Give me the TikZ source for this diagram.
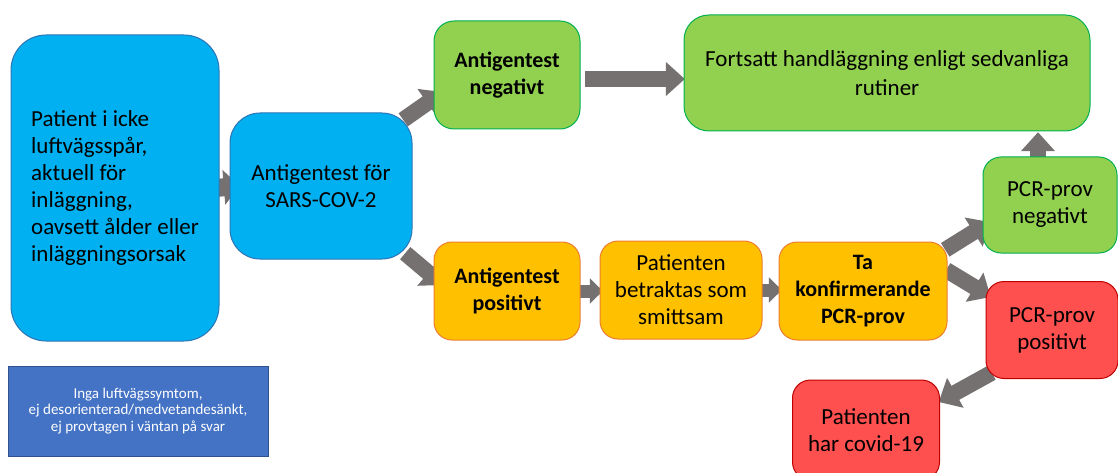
\documentclass[tikz,border=0pt]{standalone}
\usepackage{fontspec}
\setmainfont{Carlito}
\usetikzlibrary{arrows.meta,calc}
\definecolor{bluefill}{HTML}{00B0F0}
\definecolor{blueline}{HTML}{2E75B6}
\definecolor{greenfill}{HTML}{92D050}
\definecolor{greenline}{HTML}{00B050}
\definecolor{orangefill}{HTML}{FFC000}
\definecolor{orangeline}{HTML}{ED7D31}
\definecolor{redfill}{HTML}{FF5050}
\definecolor{redline}{HTML}{C00000}
\definecolor{ingafill}{HTML}{4472C4}
\definecolor{ingaline}{HTML}{2F528F}
\definecolor{arrowgray}{HTML}{767171}
\tikzset{
  stepbox/.style={draw, line width=1pt, inner sep=0pt, align=center, outer sep=0pt},
  bluebox/.style={stepbox, fill=bluefill, draw=blueline},
  greenbox/.style={stepbox, fill=greenfill, draw=greenline},
  orangebox/.style={stepbox, fill=orangefill, draw=orangeline},
  redbox/.style={stepbox, fill=redfill, draw=redline},
  mainfont/.style={font=\fontsize{23}{27}\selectfont},
  boldfont/.style={font=\fontsize{22}{27}\selectfont\bfseries},
  bigarrow/.style={draw=arrowgray, line width=16pt, -{Triangle[width=33pt,length=19pt]}},
  midarrow/.style={draw=arrowgray, line width=13pt, -{Triangle[width=25pt,length=13pt]}},
  smallarrow/.style={draw=arrowgray, line width=18pt, -{Triangle[width=34pt,length=16pt]}},
}
\begin{document}
\begin{tikzpicture}[x=1pt,y=-1pt]
\useasboundingbox (0,0) rectangle (1118,473);
\clip (0,0) rectangle (1118,473);
\fill[white] (0,0) rectangle (1118,473);

% node placeholders for connectors (drawn first so boxes cover arrow ends)
\path
  (115,188) node[minimum width=208pt, minimum height=306pt] (patient) {}
  (321,186) node[minimum width=182pt, minimum height=146pt] (sars) {}
  (507,75)  node[minimum width=146pt, minimum height=108pt] (neg) {}
  (887,73)  node[minimum width=406pt, minimum height=116pt] (fort) {}
  (1050,205) node[minimum width=134pt, minimum height=96pt] (pcrneg) {}
  (1052,330) node[minimum width=132pt, minimum height=97pt] (pcrpos) {}
  (866,430) node[minimum width=147pt, minimum height=100pt] (covid) {}
  (507,291) node[minimum width=146pt, minimum height=98pt] (pos) {}
  (681,290) node[minimum width=162pt, minimum height=98pt] (betr) {}
  (863,291) node[minimum width=168pt, minimum height=98pt] (ta) {};

% connectors
\draw[smallarrow] ($(patient.east)+(-4,0)$) -- ($(sars.west)+(10,0)$);
\draw[bigarrow] ($(sars.north east)+(-9,7)$) -- ($(neg.west)+(9,17)$);
\draw[bigarrow] ($(sars.south east)+(-7,-6)$) -- ($(pos.west)+(9,-6)$);
\draw[bigarrow] ($(neg.east)+(5,4)$) -- ($(fort.west)+(1,6)$);
\draw[midarrow] ($(pos.east)+(-3,0)$) -- ($(betr.west)+(3,1)$);
\draw[midarrow] ($(betr.east)+(-3,0)$) -- ($(ta.west)+(3,-1)$);
\draw[bigarrow] ($(ta.north east)+(-2,8)$) -- ($(pcrneg.west)+(7,17)$);
\draw[bigarrow] ($(ta.east)+(-1,-21)$) -- ($(pcrpos.west)+(5,-33)$);
\draw[bigarrow] ($(pcrpos.south west)+(6,-6)$) -- ($(covid.east)+(-1,-28)$);
\draw[bigarrow] ($(pcrneg.north)+(-12,6)$) -- ($(fort.south)+(151,1)$);

% boxes
\node[bluebox, rounded corners=35pt, minimum width=208pt, minimum height=306pt, align=left, mainfont] at (patient)
  {Patient i icke\\luftvägsspår,\\aktuell för\\inläggning,\\oavsett ålder eller\\inläggningsorsak};
\node[bluebox, rounded corners=30pt, minimum width=182pt, minimum height=146pt, mainfont] at (sars)
  {Antigentest för\\SARS-COV-2};
\node[greenbox, rounded corners=20pt, minimum width=146pt, minimum height=108pt, boldfont] at (neg)
  {Antigentest\\negativt};
\node[greenbox, rounded corners=25pt, minimum width=406pt, minimum height=116pt, font=\fontsize{23}{29}\selectfont] at (fort)
  {Fortsatt handläggning enligt sedvanliga\\rutiner};
\node[greenbox, rounded corners=18pt, minimum width=134pt, minimum height=96pt, mainfont] at (pcrneg)
  {PCR-prov\\negativt};
\node[redbox, rounded corners=18pt, minimum width=132pt, minimum height=97pt, mainfont] at (pcrpos)
  {PCR-prov\\positivt};
\node[redbox, rounded corners=18pt, minimum width=147pt, minimum height=100pt, mainfont] at (covid)
  {Patienten\\har covid-19};
\node[orangebox, rounded corners=18pt, minimum width=146pt, minimum height=98pt, boldfont] at (pos)
  {Antigentest\\positivt};
\node[orangebox, rounded corners=18pt, minimum width=162pt, minimum height=98pt, mainfont] at (betr)
  {Patienten\\betraktas som\\smittsam};
\node[orangebox, rounded corners=18pt, minimum width=168pt, minimum height=98pt, boldfont] at (ta)
  {Ta\\konfirmerande\\PCR-prov};

\node[stepbox, fill=ingafill, draw=ingaline, minimum width=260pt, minimum height=90pt, text=white, font=\fontsize{15}{16.5}\selectfont] (inga) at (138,411)
  {Inga luftvägssymtom,\\ej desorienterad/medvetandesänkt,\\ej provtagen i väntan på svar};
\end{tikzpicture}
\end{document}
